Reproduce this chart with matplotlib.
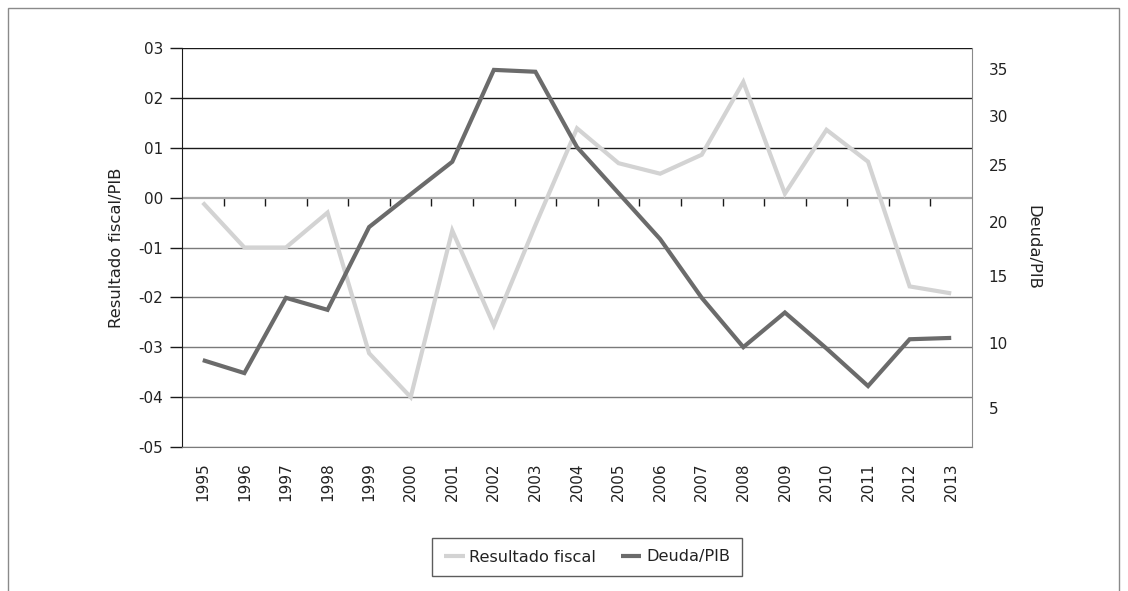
import numpy as np
import matplotlib
matplotlib.use("Agg")
import matplotlib.pyplot as plt
from matplotlib.patches import Rectangle
from matplotlib.ticker import FuncFormatter

# ---- data -------------------------------------------------------------
years = ["1995", "1996", "1997", "1998", "1999", "2000", "2001", "2002", "2003", "2004",
         "2005", "2006", "2007", "2008", "2009", "2010", "2011", "2012", "2013"]
resultado_fiscal = [-0.10, -1.00, -1.00, -0.30, -3.12, -4.00, -0.66, -2.56, -0.55, 1.39,
                    0.69, 0.48, 0.86, 2.32, 0.08, 1.36, 0.72, -1.78, -1.92]
deuda_pib = [8.7, 7.7, 13.4, 12.5, 19.5, 22.4, 25.3, 34.9, 34.7, 26.8,
             22.5, 18.4, 13.4, 9.7, 12.3, 9.6, 6.7, 10.3, 10.4]
left_ticks = [-5, -4, -3, -2, -1, 0, 1, 2, 3]
right_ticks = [5, 10, 15, 20, 25, 30, 35]
# right axis in the source is not evenly spaced: anchor values and where they sit
# on the left-axis scale (piecewise-linear scale definition)
deuda_scale_values = [0, 5, 10, 15, 20, 25, 30, 35, 40]
deuda_scale_left_units = [-5.52, -4.22, -2.92, -1.58, -0.48, 0.66, 1.64, 2.58, 3.52]

# ---- style ------------------------------------------------------------
plt.rcParams["font.family"] = ["DejaVu Sans"]
TXT = "#222222"
LIGHT = "#d3d3d3"
DARK = "#6b6b6b"
FS_TICK = 11
FS_LABEL = 11.8
FS_LEG = 11.6

W, H = 1128, 591
fig = plt.figure(figsize=(W / 100, H / 100), dpi=100)
ax = fig.add_axes([182 / W, 1 - 447 / H, 790 / W, 399 / H])

x = np.arange(len(years))
ax.set_xlim(-0.5, len(years) - 0.5)
ax.set_ylim(left_ticks[0], left_ticks[-1])

# gridlines
ax.set_yticks(left_ticks)
ax.yaxis.set_major_formatter(FuncFormatter(lambda v, p: ("-" if v < 0 else "") + f"{abs(int(round(v))):02d}"))
ax.grid(axis="y", lw=1.0)
for v, gl in zip(left_ticks, ax.yaxis.get_gridlines()):
    if v > 0:
        gl.set_color("#1a1a1a")
    elif v == 0:
        gl.set_color("#a8a8a8")
        gl.set_linewidth(1.6)
    else:
        gl.set_color("#7a7a7a")
ax.set_axisbelow(True)

ax.tick_params(axis="y", direction="out", length=8.5, width=1, color="#1a1a1a",
               labelsize=FS_TICK, labelcolor=TXT, pad=5)
ax.set_xticks(x, years, rotation=90)
ax.tick_params(axis="x", length=0, labelsize=FS_TICK, labelcolor=TXT, pad=11)

for s in ["top", "right"]:
    ax.spines[s].set_visible(False)
ax.spines["left"].set_color("#1a1a1a")
ax.spines["bottom"].set_color("#7a7a7a")

# ticks on the zero line between categories
sec = ax.secondary_xaxis(5 / 8)
sec.set_xticks(np.arange(0.5, len(years) - 1, 1))
sec.xaxis.set_ticks_position("bottom")
sec.tick_params(axis="x", direction="out", length=6, width=1, color="#1a1a1a",
                labelbottom=False, labeltop=False)
for s in sec.spines.values():
    s.set_visible(False)

l1, = ax.plot(x, resultado_fiscal, color=LIGHT, lw=3.0, solid_joinstyle="miter",
              solid_capstyle="butt", label="Resultado fiscal")
ax.set_ylabel("Resultado fiscal/PIB", fontsize=FS_LABEL, color=TXT, labelpad=10.5)

# right axis
ax2 = ax.twinx()
fwd = lambda v: np.interp(v, deuda_scale_values, deuda_scale_left_units)
inv = lambda t: np.interp(t, deuda_scale_left_units, deuda_scale_values)
ax2.set_yscale("function", functions=(fwd, inv))
ax2.set_ylim(inv(left_ticks[0]), inv(left_ticks[-1]))
l2, = ax2.plot(x, deuda_pib, color=DARK, lw=3.0, solid_joinstyle="miter",
               solid_capstyle="butt", label="Deuda/PIB")
ax2.set_yticks(right_ticks)
ax2.yaxis.set_major_formatter(FuncFormatter(lambda v, p: f"{int(round(v))}"))
ax2.yaxis.set_minor_locator(matplotlib.ticker.NullLocator())
ax2.tick_params(axis="y", length=0, labelsize=FS_TICK, labelcolor=TXT, pad=12)
for s in ["top", "left", "bottom"]:
    ax2.spines[s].set_visible(False)
ax2.spines["right"].set_color("#8a8a8a")
ax2.set_ylabel("Deuda/PIB", fontsize=FS_LABEL, color=TXT, rotation=270, labelpad=23)

leg = fig.legend(handles=[l1, l2], loc="center", bbox_to_anchor=(587 / W, 1 - 557 / H),
                 ncol=2, fontsize=FS_LEG, frameon=True, fancybox=False, handlelength=1.3,
                 handletextpad=0.3, columnspacing=1.5, borderpad=0.72)
leg.get_frame().set_edgecolor("#333333")
leg.get_frame().set_linewidth(1.0)
for t in leg.get_texts():
    t.set_color(TXT)

# outer border
fig.patches.append(Rectangle((8 / W, -0.2), (1119 - 8) / W, 1.2 - 8 / H, transform=fig.transFigure,
                             fill=False, edgecolor="#8a8a8a", lw=1.0))

fig.savefig("out.png", dpi=100)
